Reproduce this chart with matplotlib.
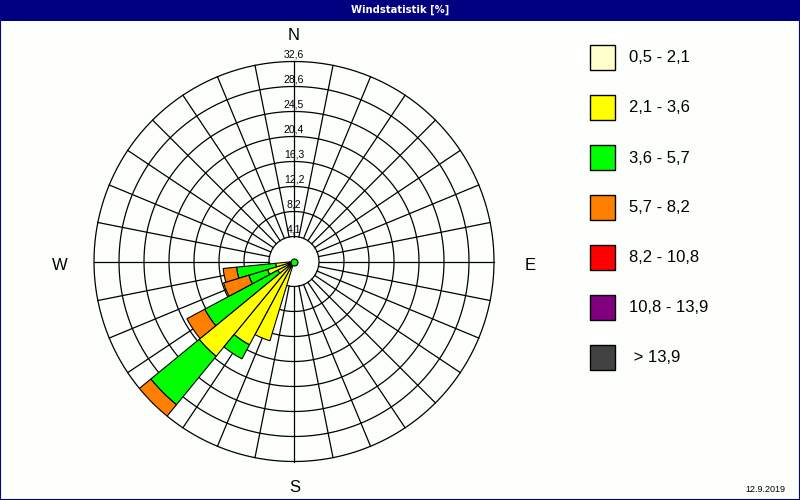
import matplotlib
matplotlib.use("Agg")
import matplotlib.pyplot as plt
import numpy as np
from matplotlib.patches import Rectangle

# ---------------- data ----------------
title = "Windstatistik [%]"
date_text = "12.9.2019"
cardinal_labels = ["N", "E", "S", "W"]
ring_labels = ["4,1", "8,2", "12,2", "16,3", "20,4", "24,5", "28,6", "32,6"]
r_max = 32.6
n_sectors = 32
directions_deg = [202.5, 213.75, 225.0, 236.25, 247.5, 258.75]

class_labels = ["0,5 - 2,1", "2,1 - 3,6", "3,6 - 5,7", "5,7 - 8,2",
                "8,2 - 10,8", "10,8 - 13,9", " > 13,9"]
class_colors = ["#FFFFCC", "#FFFF00", "#00FF00", "#FF8000",
                "#FF0000", "#800080", "#424242"]

v_05_21 = [0.0, 0.0, 0.0, 0.0, 0.0, 0.0]
v_21_36 = [13.5, 15.4, 20.0, 3.0, 4.5, 3.0]
v_36_57 = [0.0, 2.6, 10.2, 13.5, 3.2, 6.4]
v_57_82 = [0.0, 0.0, 2.4, 3.3, 4.3, 2.2]
v_82_108 = [0.0, 0.0, 0.0, 0.0, 0.0, 0.0]
v_108_139 = [0.0, 0.0, 0.0, 0.0, 0.0, 0.0]
v_gt_139 = [0.0, 0.0, 0.0, 0.0, 0.0, 0.0]
class_values = [v_05_21, v_21_36, v_36_57, v_57_82, v_82_108, v_108_139, v_gt_139]

# ---------------- figure ----------------
plt.rcParams["font.family"] = ["Liberation Sans", "DejaVu Sans"]
W, H = 800, 500
bg = "#FCFFFC"
navy = "#000080"
fig = plt.figure(figsize=(W / 100, H / 100), dpi=100)
fig.patch.set_facecolor(bg)

def fx(px):
    return px / W

def fy(py):
    return 1 - py / H

# title bar
fig.add_artist(Rectangle((0, fy(21)), 1, 21 / H, transform=fig.transFigure,
                         facecolor=navy, edgecolor="none", zorder=1))
fig.text(0.5, fy(10), title, ha="center", va="center", color="white",
         fontsize=8, fontweight="bold", family=["DejaVu Sans"], fontstretch="condensed")
# frame
fig.add_artist(Rectangle((0, 0), 1, 1, transform=fig.transFigure, fill=False,
                         edgecolor=navy, linewidth=1.5, zorder=2))

# polar axes
cx, cy, R = 294, 261.5, 200
ax = fig.add_axes([fx(cx - R), fy(cy + R), 2 * R / W, 2 * R / H], projection="polar")
ax.set_theta_zero_location("N")
ax.set_theta_direction(-1)
ax.set_ylim(0, r_max)
ax.axis("off")

step = r_max / len(ring_labels)
theta_full = np.linspace(0, 2 * np.pi, 721)
for k in range(1, len(ring_labels) + 1):
    ax.plot(theta_full, np.full_like(theta_full, k * step), color="black",
            lw=0.9, zorder=1, clip_on=False)
for i in range(n_sectors):
    th = np.radians(i * 360 / n_sectors)
    ax.plot([th, th], [step, r_max], color="black", lw=0.9, zorder=1, clip_on=False)

for k, lab in enumerate(ring_labels, start=1):
    ax.annotate(lab, xy=(0, k * step), xytext=(0, 1.5), textcoords="offset points",
                ha="center", va="bottom", fontsize=7.5, zorder=2)

# bars
theta = np.radians(directions_deg)
width = np.radians(360 / n_sectors)
bottom = np.zeros(len(directions_deg))
for vals, col in zip(class_values, class_colors):
    vals = np.asarray(vals)
    mask = vals > 0
    if mask.any():
        ax.bar(theta[mask], vals[mask], width=width, bottom=bottom[mask],
               color=col, edgecolor="black", linewidth=0.8, zorder=3)
    bottom = bottom + vals

ax.plot([0], [0], "o", ms=5, mfc="#00FF00", mec="black", mew=0.8, zorder=5, clip_on=False)

# cardinal labels
card_pos = {"N": (294, 35), "E": (530, 265), "S": (295, 488), "W": (60, 265)}
for lab in cardinal_labels:
    px, py = card_pos[lab]
    fig.text(fx(px), fy(py), lab, ha="center", va="center", fontsize=12)

# legend
for i, (lab, col) in enumerate(zip(class_labels, class_colors)):
    top = 45 + 50 * i
    fig.add_artist(Rectangle((fx(590), fy(top + 25)), 25 / W, 25 / H,
                             transform=fig.transFigure, facecolor=col,
                             edgecolor="black", linewidth=1.0))
    fig.text(fx(629), fy(top + 13), lab, ha="left", va="center", fontsize=12)

fig.text(fx(765), fy(489), date_text, ha="center", va="center", fontsize=6.5)

fig.savefig("out.png", dpi=100, facecolor=fig.get_facecolor())
